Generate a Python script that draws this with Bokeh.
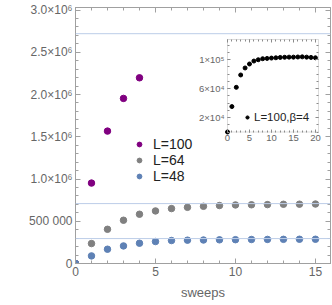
import numpy as np
from bokeh.plotting import figure
from bokeh.models import (Span, Legend, LegendItem, FixedTicker, LinearAxis, Label,
                          Range1d, BoxAnnotation, CustomLabelingPolicy)
from bokeh.embed import file_html
from bokeh.resources import INLINE

# ---- data (main) ----
sweeps = list(range(0, 16))
L100_x = [0, 1, 2, 3, 4]
L100_y = [0, 952000, 1567000, 1954000, 2198000]
L64_y = [0, 236000, 405000, 512000, 583000, 622000, 650000, 665000, 677000,
         686000, 693000, 695000, 697000, 701000, 702000, 704000]
L48_y = [0, 90000, 169000, 208000, 240000, 260000, 272000, 276000, 278000,
         280000, 282000, 284000, 285000, 286000, 287000, 287000]
ref_lines = [2720000, 709000, 295000]
y_ticks = [0, 500000, 1000000, 1500000, 2000000, 2500000, 3000000]
y_tick_labels = ["0", "500 000", "1.0\u00d710\u2076", "1.5\u00d710\u2076", "2.0\u00d710\u2076",
                 "2.5\u00d710\u2076", "3.0\u00d710\u2076"]
x_ticks = [0, 5, 10, 15]

# ---- data (inset) ----
ins_x = list(range(0, 21))
ins_y = [0, 35200, 61800, 78900, 88600, 94100, 98200, 100000, 101400, 101800, 102300,
         102700, 103200, 103400, 103600, 103600, 103800, 104000, 103600, 103200, 102700]
ins_y_ticks = [20000, 60000, 100000]
ins_y_tick_labels = ["2\u00d710\u2074", "6\u00d710\u2074", "1\u00d710\u2075"]
ins_x_ticks = [0, 5, 10, 15, 20]

FONT = "Liberation Sans"
GRAY = "#a0a0a0"
TXT = "#666666"
PURPLE = "#800080"
MGRAY = "#808080"
BLUE = "#5e81b5"

HIDE = CustomLabelingPolicy(code="""
for (let i = 0; i < indices.size; i++) {
  if (typeof indices.unset === "function") indices.unset(i); else indices.set(i, false);
}
return indices
""")

p = figure(width=332, height=305, x_range=(0, 15.94), y_range=(0, 3.03e6),
           output_backend="svg", toolbar_location=None,
           min_border_left=75, min_border_right=2, min_border_top=7, min_border_bottom=42)
p.xgrid.visible = False
p.ygrid.visible = False
p.outline_line_color = GRAY
p.background_fill_color = "white"

# inset coordinate system mapped onto a sub-rectangle of the main frame
p.extra_x_ranges = {"ix": Range1d(-34.58, 23.43)}
p.extra_y_ranges = {"iy": Range1d(-181950, 172277)}
INS_X = (0, 20.7)
INS_Y = (0, 1.28e5)


def style_axis(ax, ticks, minor, labels=True, overrides=None, fs="12px",
               tin=5, mtin=3, color=GRAY):
    ax.ticker = FixedTicker(ticks=ticks, minor_ticks=minor)
    ax.axis_line_color = color
    ax.major_tick_line_color = color
    ax.minor_tick_line_color = color
    ax.major_tick_in = tin
    ax.major_tick_out = 0
    ax.minor_tick_in = mtin
    ax.minor_tick_out = 0
    ax.major_label_text_font = FONT
    ax.major_label_text_color = TXT
    ax.major_label_standoff = 3
    if labels:
        ax.major_label_text_font_size = fs
        if overrides:
            ax.major_label_overrides = overrides
    else:
        ax.major_label_text_font_size = "0px"
        ax.major_label_standoff = 0
        ax.major_label_policy = HIDE


y_minor = list(np.arange(0, 3.05e6, 1e5))
x_minor = list(range(0, 16))
style_axis(p.yaxis[0], y_ticks, y_minor, overrides={t: l for t, l in zip(y_ticks, y_tick_labels)})
style_axis(p.xaxis[0], x_ticks, x_minor)
p.xaxis[0].axis_label = "sweeps"
p.xaxis[0].axis_label_text_font = FONT
p.xaxis[0].axis_label_text_font_style = "normal"
p.xaxis[0].axis_label_text_font_size = "13px"
p.xaxis[0].axis_label_text_color = TXT
p.xaxis[0].axis_label_standoff = 6

top_ax = LinearAxis()
style_axis(top_ax, x_ticks, x_minor, labels=False)
p.add_layout(top_ax, "above")
right_ax = LinearAxis()
style_axis(right_ax, y_ticks, y_minor, labels=False)
p.add_layout(right_ax, "right")

for v in ref_lines:
    p.add_layout(Span(location=v, dimension="width", line_color="#bccde8", line_width=1))

r100 = p.scatter(L100_x, L100_y, size=6.5, color=PURPLE)
r64 = p.scatter(sweeps, L64_y, size=6.5, color=MGRAY)
r48 = p.scatter(sweeps, L48_y, size=6.5, color=BLUE)

leg = Legend(items=[LegendItem(label="L=100", renderers=[r100]),
                    LegendItem(label="L=64", renderers=[r64]),
                    LegendItem(label="L=48", renderers=[r48])],
             location=(58, 79), background_fill_alpha=0, border_line_alpha=0,
             label_text_font=FONT, label_text_font_size="14px", label_text_color="#222222",
             glyph_width=12, glyph_height=14, label_height=16, spacing=0, padding=0, margin=0,
             label_standoff=8)
p.add_layout(leg)

p.add_layout(Label(x=-66, y=128, x_units="screen", y_units="screen", text="N",
                   angle=np.pi / 2, text_font=FONT, text_font_style="italic",
                   text_font_size="15px", text_color=TXT, text_align="center",
                   text_baseline="middle"))
p.add_layout(Label(x=-60, y=139, x_units="screen", y_units="screen", text="b",
                   angle=np.pi / 2, text_font=FONT, text_font_style="italic",
                   text_font_size="11px", text_color=TXT, text_align="center",
                   text_baseline="middle"))

# ---- inset ----
p.add_layout(BoxAnnotation(left=INS_X[0], right=INS_X[1], bottom=INS_Y[0], top=INS_Y[1],
                           x_range_name="ix", y_range_name="iy", fill_color="white",
                           fill_alpha=1, line_color="#8a8a8a", line_width=1, level="underlay"))

ins_minor_x = list(range(0, 21))
ins_minor_y = list(np.arange(0, 1.25e5, 1e4))
ix_b = LinearAxis(x_range_name="ix", y_range_name="iy", fixed_location=INS_Y[0])
style_axis(ix_b, ins_x_ticks, ins_minor_x, fs="9.5px", tin=3, mtin=2, color="#8a8a8a")
ix_b.axis_line_color = None
p.add_layout(ix_b, "below")
iy_l = LinearAxis(x_range_name="ix", y_range_name="iy", fixed_location=INS_X[0])
style_axis(iy_l, ins_y_ticks, ins_minor_y, fs="9.5px", tin=3, mtin=2, color="#8a8a8a",
           overrides={t: l for t, l in zip(ins_y_ticks, ins_y_tick_labels)})
iy_l.axis_line_color = None
p.add_layout(iy_l, "left")
ix_t = LinearAxis(x_range_name="ix", y_range_name="iy", fixed_location=INS_Y[1])
style_axis(ix_t, ins_x_ticks, ins_minor_x, labels=False, tin=3, mtin=2, color="#8a8a8a")
ix_t.axis_line_color = None
p.add_layout(ix_t, "above")
iy_r = LinearAxis(x_range_name="ix", y_range_name="iy", fixed_location=INS_X[1])
style_axis(iy_r, ins_y_ticks, ins_minor_y, labels=False, tin=3, mtin=2, color="#8a8a8a")
iy_r.axis_line_color = None
p.add_layout(iy_r, "right")

ri = p.scatter(ins_x, ins_y, size=4, color="black", x_range_name="ix", y_range_name="iy")
leg2 = Legend(items=[LegendItem(label="L=100,\u03b2=4", renderers=[ri])],
              location=(168, 139), background_fill_alpha=0, border_line_alpha=0,
              label_text_font=FONT, label_text_font_size="11.5px", label_text_color="#222222",
              glyph_width=8, glyph_height=12, label_height=14, spacing=0, padding=0, margin=0,
              label_standoff=3)
p.add_layout(leg2)

open("out.html", "w").write(file_html(p, INLINE))
